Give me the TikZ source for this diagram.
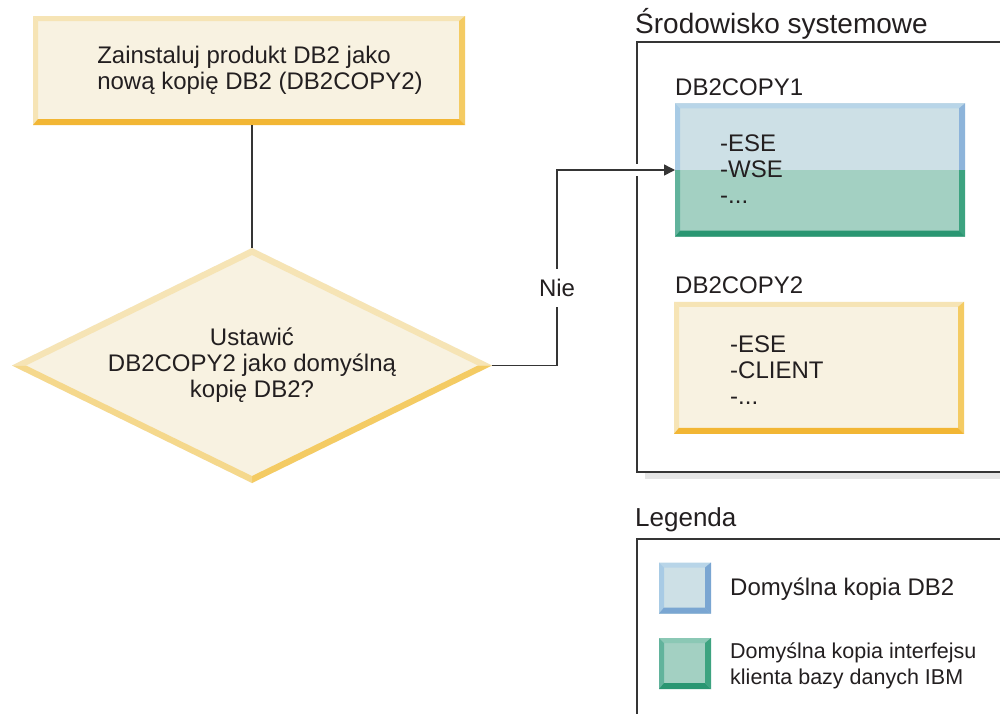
\documentclass[tikz,border=0pt]{standalone}
\usepackage{fontspec}
\setmainfont{Liberation Sans}
\usepackage{tikz}
\usepackage{xcolor}
\usetikzlibrary{shapes.geometric, arrows.meta, positioning, calc}

\definecolor{cream}{HTML}{F8F2E1}
\definecolor{bevlight}{HTML}{F6E4B5}
\definecolor{bevmid}{HTML}{F5D88C}
\definecolor{bevright}{HTML}{F4CB63}
\definecolor{bevbottom}{HTML}{F2B634}
\definecolor{defblue}{HTML}{CDE0E6}
\definecolor{defgreen}{HTML}{A3D0C2}
\definecolor{bluetop}{HTML}{B8D5E8}
\definecolor{blueleft}{HTML}{A8CBE5}
\definecolor{blueright}{HTML}{8DB4DA}
\definecolor{bluebottom}{HTML}{7AA6D2}
\definecolor{greentop}{HTML}{8BC8B5}
\definecolor{greenleft}{HTML}{62B39C}
\definecolor{greenright}{HTML}{3DA380}
\definecolor{greenbottom}{HTML}{2A9672}
\definecolor{linegray}{HTML}{353535}
\definecolor{txtgray}{HTML}{231F20}

% bevelled box: node, top, left, right, bottom
\newcommand{\bevelbox}[5]{%
  \path[fill=#2] (#1.north west) -- (#1.north east) -- ([shift={(-6,5)}]#1.north east) -- ([shift={(5,5)}]#1.north west) -- cycle;
  \path[fill=#3] (#1.north west) -- ([shift={(5,5)}]#1.north west) -- ([shift={(5,-6)}]#1.south west) -- (#1.south west) -- cycle;
  \path[fill=#4] (#1.north east) -- ([shift={(-6,5)}]#1.north east) -- ([shift={(-6,-6)}]#1.south east) -- (#1.south east) -- cycle;
  \path[fill=#5] (#1.south west) -- ([shift={(5,-6)}]#1.south west) -- ([shift={(-6,-6)}]#1.south east) -- (#1.south east) -- cycle;
}

\tikzset{
  txt/.style={font=\fontsize{24}{26}\selectfont, text=txtgray, inner sep=0pt},
  panel/.style={rectangle, inner sep=0pt, outer sep=0pt},
  frame/.style={panel, draw=linegray, line width=1.6pt},
  conn/.style={draw=linegray, line width=1.5pt},
}

\begin{document}
\begin{tikzpicture}[x=1pt, y=-1pt]
\useasboundingbox (0,0) rectangle (1000,713);
\clip (0,0) rectangle (1000,713);
\fill[white] (0,0) rectangle (1000,713);

% flow on the left
\node[panel, fill=cream, minimum width=432, minimum height=109] (install) at (249,70.5) {};
\bevelbox{install}{bevlight}{bevlight}{bevright}{bevbottom}
\node[txt, align=left] (installtxt) at ([xshift=11pt]install.center)
  {Zainstaluj produkt DB2 jako\\nową kopię DB2 (DB2COPY2)};

\node[diamond, fill=cream, aspect=2, inner sep=0pt, outer sep=0pt, minimum width=480, minimum height=235, txt, align=center] (dia) at (252,365.5)
  {Ustawić\\DB2COPY2 jako domyślną\\kopię DB2?};
\path[fill=bevlight] (dia.west) -- (dia.north) -- ([shift={(0,7)}]dia.north) -- ([shift={(14,0)}]dia.west) -- cycle;
\path[fill=bevlight] (dia.north) -- (dia.east) -- ([shift={(-14,0)}]dia.east) -- ([shift={(0,7)}]dia.north) -- cycle;
\path[fill=bevright] (dia.east) -- (dia.south) -- ([shift={(0,-7)}]dia.south) -- ([shift={(-14,0)}]dia.east) -- cycle;
\path[fill=bevmid] (dia.south) -- (dia.west) -- ([shift={(14,0)}]dia.west) -- ([shift={(0,-7)}]dia.south) -- cycle;

\draw[conn] (install.south -| dia.north) -- (dia.north);

% system environment
\node[txt, font=\fontsize{28}{30}\selectfont, anchor=base west] (envtitle) at (635,33.3) {Środowisko systemowe};
\fill[black!10] (645,472) rectangle (1010,479);
\node[frame, fill=white, minimum width=373, minimum height=430, anchor=north west] (env) at (636.7,41.7) {};

\node[txt, anchor=base west] (lab1) at (675,95) {DB2COPY1};
\node[panel, fill=defblue, minimum width=290, minimum height=133.4] (copy1) at (820,170) {};
\fill[defgreen] (copy1.west) rectangle (copy1.south east);
\path[fill=bluetop] (copy1.north west) -- (copy1.north east) -- ([shift={(-6,5)}]copy1.north east) -- ([shift={(5,5)}]copy1.north west) -- cycle;
\path[fill=blueleft] (copy1.north west) -- ([shift={(5,5)}]copy1.north west) -- ([shift={(5,0)}]copy1.west) -- (copy1.west) -- cycle;
\path[fill=greenleft] (copy1.west) -- ([shift={(5,0)}]copy1.west) -- ([shift={(5,-6)}]copy1.south west) -- (copy1.south west) -- cycle;
\path[fill=blueright] (copy1.north east) -- ([shift={(-6,5)}]copy1.north east) -- ([shift={(-6,0)}]copy1.east) -- (copy1.east) -- cycle;
\path[fill=greenright] (copy1.east) -- ([shift={(-6,0)}]copy1.east) -- ([shift={(-6,-6)}]copy1.south east) -- (copy1.south east) -- cycle;
\path[fill=greenbottom] (copy1.south west) -- ([shift={(5,-6)}]copy1.south west) -- ([shift={(-6,-6)}]copy1.south east) -- (copy1.south east) -- cycle;
\node[txt, align=left, anchor=north west] (list1) at (720,134.5) {-ESE\\-WSE\\-...};

\node[txt, anchor=base west] (lab2) at (675,293.3) {DB2COPY2};
\node[panel, fill=cream, minimum width=290, minimum height=132] (copy2) at (819,367.8) {};
\bevelbox{copy2}{bevlight}{bevlight}{bevright}{bevbottom}
\node[txt, align=left, anchor=north west] (list2) at (730,335.8) {-ESE\\-CLIENT\\-...};

% connector Nie
\draw[white, line width=6pt] ($(env.west |- copy1.west)+(0,-6)$) -- ($(env.west |- copy1.west)+(0,6)$);
\node[txt, fill=white, inner xsep=2pt, inner ysep=10pt] (nie) at (557,288) {Nie};
\draw[conn] (dia.east) -| (nie.south);
\draw[conn, -{Triangle[length=11pt, width=11pt]}] (nie.north) |- (copy1.west);

% legend
\node[txt, font=\fontsize{26}{28}\selectfont, anchor=base west] (legtitle) at (635,526.7) {Legenda};
\node[frame, minimum width=373, minimum height=200, anchor=north west] (legend) at (636.7,539) {};

\node[panel, fill=defblue, minimum width=52, minimum height=51] (sqdef) at (685,588) {};
\bevelbox{sqdef}{bluetop}{blueleft}{bluebottom}{bluebottom}
\node[txt, anchor=base west] (legdef) at (730,595) {Domyślna kopia DB2};

\node[panel, fill=defgreen, minimum width=52, minimum height=51] (sqcli) at (685,663.5) {};
\bevelbox{sqcli}{greentop}{greenleft}{greenright}{greenbottom}
\node[txt, font=\fontsize{21.5}{26.5}\selectfont, align=left, anchor=north west] (legcli) at (730,642) {Domyślna kopia interfejsu\\klienta bazy danych IBM};
\end{tikzpicture}
\end{document}
